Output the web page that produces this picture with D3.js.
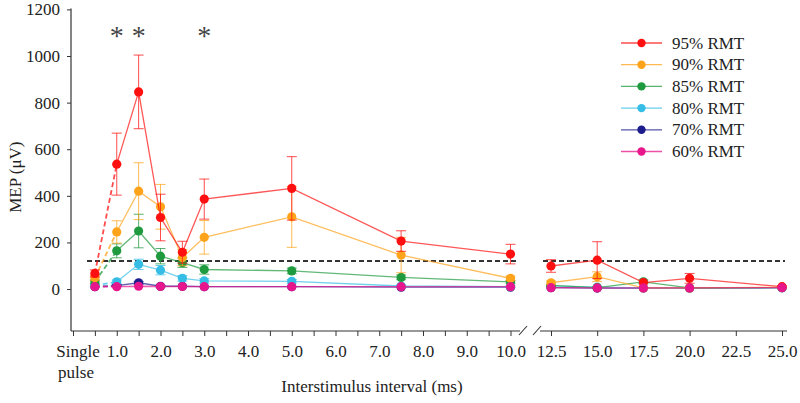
<!DOCTYPE html>
<html>
<head>
<meta charset="utf-8">
<script src="https://cdn.jsdelivr.net/npm/d3@7"></script>
<style>
  html, body { margin: 0; padding: 0; background: #fff; }
  svg { display: block; }
  svg text { font-family: "Times New Roman", "Liberation Serif", Times, "DejaVu Serif", serif !important; fill: #222; }
</style>
</head>
<body>
<svg id="chart" width="800" height="403"></svg>
<script>
// ---------------- data ----------------
const categories = ["Single pulse","1.0","1.5","2.0","2.5","3.0","5.0","7.5","10.0","12.5","15.0","17.5","20.0","25.0"];
const isiMs = [0.5, 1.0, 1.5, 2.0, 2.5, 3.0, 5.0, 7.5, 10.0, 12.5, 15.0, 17.5, 20.0, 25.0]; // single pulse shown at 0.5

const rmt95 = [67, 536, 846, 307, 158, 386, 432, 206, 150, 99, 124, 28, 46, 10];
const rmt95Err = [15, 133, 158, 100, 47, 86, 136, 44, 42, 27, 79, 0, 21, 4];
const rmt90 = [48, 245, 420, 353, 135, 222, 310, 146, 46, 27, 53, 5, 5, 8];
const rmt90Err = [10, 48, 122, 96, 35, 72, 131, 76, 10, 8, 21, 3, 3, 3];
const rmt85 = [31, 164, 249, 141, 113, 84, 78, 50, 31, 16, 6, 31, 5, 6];
const rmt85Err = [8, 30, 72, 33, 20, 20, 12, 10, 6, 5, 4, 8, 3, 3];
const rmt80 = [15, 31, 106, 81, 46, 35, 33, 13, 10, 14, 8, 5, 4, 6];
const rmt80Err = [5, 8, 22, 20, 12, 10, 8, 5, 4, 4, 3, 3, 2, 2];
const rmt70 = [10, 15, 27, 12, 12, 10, 10, 8, 8, 6, 4, 4, 4, 6];
const rmt70Err = [3, 4, 6, 4, 3, 3, 3, 2, 2, 2, 2, 2, 2, 2];
const rmt60 = [10, 10, 12, 11, 11, 10, 10, 10, 10, 6, 5, 5, 5, 6];
const rmt60Err = [2, 2, 3, 2, 2, 2, 2, 2, 2, 2, 2, 2, 2, 2];

const seriesNames = ["95% RMT","90% RMT","85% RMT","80% RMT","70% RMT","60% RMT"];
const seriesColors = ["#ff1010","#ffa31a","#1f9a3f","#35bde6","#1c1c8c","#e8168c"];

const yTicks = [0, 200, 400, 600, 800, 1000, 1200];
const xTicksLeft = d3.range(0, 10.001, 0.5);
const xLabelsLeft = [1,2,3,4,5,6,7,8,9,10];
const xTicksRight = [12.5, 15, 17.5, 20, 22.5, 25];
const threshold = 120;
const significant = [1.0, 1.5, 3.0];

// ---------------- layout ----------------
const FONT = '"Times New Roman", "Liberation Serif", Times, "DejaVu Serif", serif';
const FS = 17;
const svg = d3.select("#chart");
const y = d3.scaleLinear().domain([-180, 1200]).range([331, 9.4]);
const xL = d3.scaleLinear().domain([0, 10]).range([73, 510.5]);
const xR = d3.scaleLinear().domain([12.5, 25]).range([551, 782]);
const xPos = t => t <= 10 ? xL(t) : xR(t);
const axisY = 331;

function styleAxis(g) {
  g.attr("font-family", FONT).attr("font-size", FS);
  g.select(".domain").remove();
  g.selectAll(".tick line").attr("stroke", "#333");
  g.selectAll(".tick text").attr("fill", "#222");
}

// y axis
const gy = svg.append("g").attr("transform", `translate(71,0)`)
  .call(d3.axisLeft(y).tickValues(yTicks).tickSize(4).tickSizeOuter(0).tickFormat(d3.format("d")));
styleAxis(gy);
gy.selectAll(".tick text").attr("x", -11);
gy.append("line").attr("x1", 0).attr("x2", 0).attr("y1", y(1200) - 1).attr("y2", axisY).attr("stroke", "#333").attr("stroke-width", 1.2);

svg.append("text").attr("transform", `translate(21,${y(480)}) rotate(-90)`)
  .attr("text-anchor", "middle").attr("font-family", FONT).attr("font-size", FS).text("MEP (μV)");

// x axis left segment
const gxL = svg.append("g").attr("transform", `translate(0,${axisY})`)
  .call(d3.axisBottom(xL).tickValues(xTicksLeft).tickSize(5).tickSizeOuter(0)
    .tickFormat(d => xLabelsLeft.includes(d) ? d3.format(".1f")(d) : ""));
styleAxis(gxL);
gxL.selectAll(".tick text").attr("y", 14);
gxL.append("line").attr("x1", 71).attr("x2", 520).attr("y1", 0).attr("y2", 0).attr("stroke", "#333").attr("stroke-width", 1.2);

// x axis right segment
const gxR = svg.append("g").attr("transform", `translate(0,${axisY})`)
  .call(d3.axisBottom(xR).tickValues(xTicksRight).tickSize(5).tickSizeOuter(0).tickFormat(d3.format(".1f")));
styleAxis(gxR);
gxR.selectAll(".tick text").attr("y", 14);
gxR.append("line").attr("x1", 540).attr("x2", 787).attr("y1", 0).attr("y2", 0).attr("stroke", "#333").attr("stroke-width", 1.2);

// break marks
[[519, 527], [533, 541]].forEach(([a, b]) => {
  svg.append("line").attr("x1", a).attr("y1", axisY + 4).attr("x2", b).attr("y2", axisY - 5)
    .attr("stroke", "#333").attr("stroke-width", 1.1);
});

// single pulse label
svg.append("text").attr("x", 78).attr("y", axisY + 26).attr("text-anchor", "middle").attr("font-family", FONT).attr("font-size", FS).text("Single");
svg.append("text").attr("x", 76).attr("y", axisY + 47).attr("text-anchor", "middle").attr("font-family", FONT).attr("font-size", FS).text("pulse");

svg.append("text").attr("x", 372).attr("y", 392).attr("text-anchor", "middle").attr("font-family", FONT).attr("font-size", FS).text("Interstimulus interval (ms)");

// threshold dashed line
[[87, 518], [543, 785]].forEach(([a, b]) => {
  svg.append("line").attr("x1", a).attr("x2", b).attr("y1", y(threshold)).attr("y2", y(threshold))
    .attr("stroke", "#333").attr("stroke-width", 2).attr("stroke-dasharray", "5,3");
});

// series
const values = [rmt95, rmt90, rmt85, rmt80, rmt70, rmt60];
const errs = [rmt95Err, rmt90Err, rmt85Err, rmt80Err, rmt70Err, rmt60Err];
const drawOrder = [4, 3, 2, 1, 0, 5];
const line = d3.line().x(d => xPos(d.t)).y(d => y(d.v));

drawOrder.forEach(si => {
  const color = seriesColors[si];
  const pts = isiMs.map((t, i) => ({ t, v: values[si][i], e: errs[si][i] }));
  const g = svg.append("g");
  g.append("path").datum(pts.slice(0, 2)).attr("d", line).attr("fill", "none")
    .attr("stroke", color).attr("stroke-opacity", 0.75).attr("stroke-width", 1.8).attr("stroke-dasharray", "5,3");
  g.append("path").datum(pts.slice(1, 9)).attr("d", line).attr("fill", "none")
    .attr("stroke", color).attr("stroke-opacity", 0.7).attr("stroke-width", 1.3);
  g.append("path").datum(pts.slice(9)).attr("d", line).attr("fill", "none")
    .attr("stroke", color).attr("stroke-opacity", 0.7).attr("stroke-width", 1.3);
  const eb = g.selectAll(".eb").data(pts.filter(d => d.e > 3)).enter().append("g")
    .attr("stroke", color).attr("stroke-opacity", 0.75).attr("stroke-width", 1);
  eb.append("line").attr("x1", d => xPos(d.t)).attr("x2", d => xPos(d.t))
    .attr("y1", d => y(d.v + d.e)).attr("y2", d => y(d.v - d.e));
  eb.append("line").attr("x1", d => xPos(d.t) - 5).attr("x2", d => xPos(d.t) + 5)
    .attr("y1", d => y(d.v + d.e)).attr("y2", d => y(d.v + d.e));
  eb.append("line").attr("x1", d => xPos(d.t) - 5).attr("x2", d => xPos(d.t) + 5)
    .attr("y1", d => y(d.v - d.e)).attr("y2", d => y(d.v - d.e));
  g.selectAll("circle").data(pts).enter().append("circle")
    .attr("cx", d => xPos(d.t)).attr("cy", d => y(d.v)).attr("r", 4.6)
    .attr("fill", color);
});

// significance asterisks
svg.selectAll(".ast").data(significant).enter().append("text")
  .attr("x", d => xL(d)).attr("y", 45).attr("text-anchor", "middle")
  .attr("font-family", FONT).attr("font-size", 28).style("fill", "#444").text("*");

// legend
const legend = svg.append("g");
seriesNames.forEach((name, i) => {
  const ly = 43 + i * 21.7;
  legend.append("line").attr("x1", 621).attr("x2", 662).attr("y1", ly).attr("y2", ly)
    .attr("stroke", seriesColors[i]).attr("stroke-opacity", 0.75).attr("stroke-width", 1.3);
  legend.append("circle").attr("cx", 641.5).attr("cy", ly).attr("r", 4.2).attr("fill", seriesColors[i]);
  legend.append("text").attr("x", 672).attr("y", ly + 5.5).attr("font-family", FONT).attr("font-size", FS).text(name);
});
</script>
</body>
</html>
